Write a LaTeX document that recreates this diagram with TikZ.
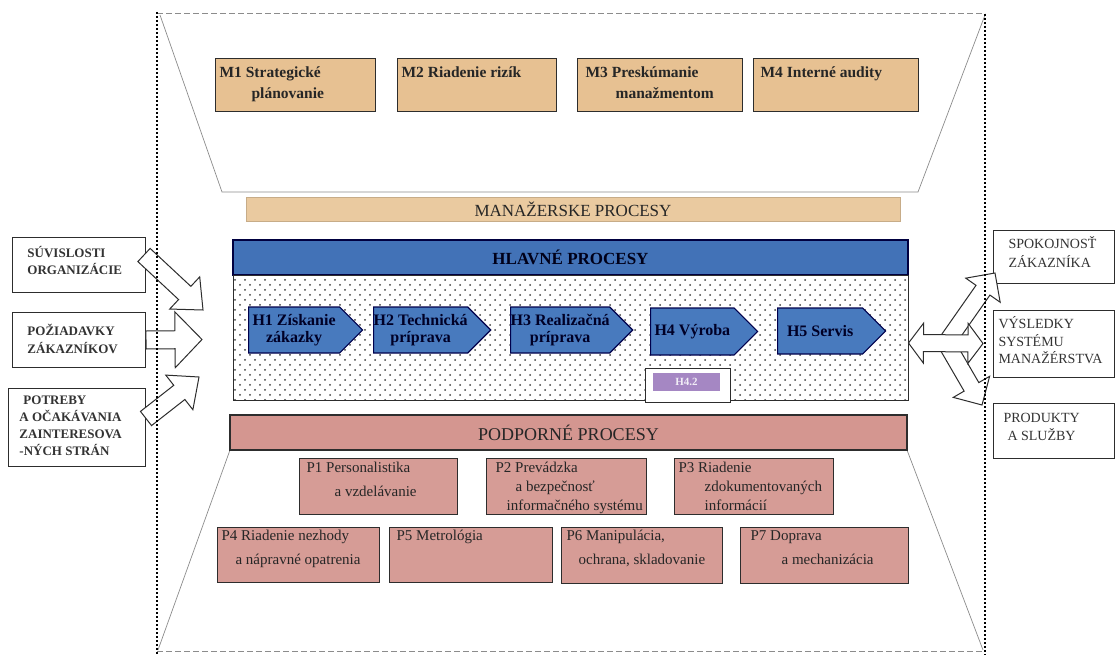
\documentclass[tikz,border=0pt]{standalone}
\usepackage{fontspec}
\setmainfont{Liberation Serif}
\usetikzlibrary{calc,shapes.symbols,patterns.meta}
\definecolor{tanc}{RGB}{231,193,146}
\definecolor{tanbar}{RGB}{234,202,160}
\definecolor{blueb}{RGB}{66,114,183}
\definecolor{blueh}{RGB}{72,122,190}
\definecolor{pinkc}{RGB}{214,156,150}
\definecolor{pinkbar}{RGB}{212,150,144}
\definecolor{purp}{RGB}{165,135,195}
\definecolor{edge}{RGB}{45,45,45}
\tikzdeclarepattern{
  name=mydots,
  type=uncolored,
  bottom left={(-1.5pt,-1.5pt)},
  top right={(8.5pt,8.5pt)},
  tile size={(10pt,10pt)},
  code={
    \pgfpathcircle{\pgfpoint{0pt}{0pt}}{1pt}
    \pgfpathcircle{\pgfpoint{5pt}{5pt}}{1pt}
    \pgfusepath{fill}
  }
}
% width, height, left pad, first baseline, line skip, content
\newcommand{\tb}[6]{\parbox[c][#2][t]{#1}{\raggedright\leftskip=#3\relax\baselineskip=#5\relax\rule{0pt}{#4}#6}}
\newcommand{\blockarrow}[5]{%
  \coordinate (tmpH) at ($(#2)!#5!(#1)$);
  \draw[barrow] ($(#1)!#3!90:(#2)$)
    -- ($(tmpH)!#3!90:(#2)$)
    -- ($(tmpH)!#4!90:(#2)$)
    -- (#2)
    -- ($(tmpH)!#4!-90:(#2)$)
    -- ($(tmpH)!#3!-90:(#2)$)
    -- ($(#1)!#3!-90:(#2)$) -- cycle;}
\newcommand{\dblarrow}[5]{%
  \coordinate (tmpA) at ($(#1)!#5!(#2)$);
  \coordinate (tmpB) at ($(#2)!#5!(#1)$);
  \draw[barrow] (#1) -- ($(tmpA)!#4!90:(#2)$) -- ($(tmpA)!#3!90:(#2)$)
    -- ($(tmpB)!#3!-90:(#1)$) -- ($(tmpB)!#4!-90:(#1)$) -- (#2)
    -- ($(tmpB)!#4!90:(#1)$) -- ($(tmpB)!#3!90:(#1)$)
    -- ($(tmpA)!#3!-90:(#2)$) -- ($(tmpA)!#4!-90:(#2)$) -- cycle;}
\begin{document}
\begin{tikzpicture}[x=1pt,y=-1pt,
  box/.style={anchor=north west, inner sep=0pt, line width=1.2pt, draw=edge},
  mbox/.style={box, fill=tanc, font=\bfseries\fontsize{15.5}{20}\selectfont, text=black!85},
  pbox/.style={box, fill=pinkc, font=\fontsize{15}{19}\selectfont, text=black!85},
  lbox/.style={box, fill=white, line width=1pt, font=\bfseries\fontsize{13}{17}\selectfont, text=black!80},
  rbox/.style={box, fill=white, line width=1pt, font=\fontsize{14}{18}\selectfont, text=black!80},
  bar/.style={inner sep=0pt, line width=1.2pt},
  hsig/.style={signal, signal to=east, anchor=west, draw=blue!30!black, line width=1.2pt, fill=blueh,
    inner sep=0pt, minimum height=46pt, font=\bfseries\fontsize{16}{17}\selectfont,
    text=blue!15!black, align=center},
  barrow/.style={draw=edge, line width=1pt, fill=white, line join=miter},
  trapline/.style={draw=black!45, line width=0.7pt},
  vdot/.style={draw=black, line width=1.3pt, dash pattern=on 1.6pt off 2.4pt},
  hdash/.style={draw=black!45, line width=0.8pt, dash pattern=on 6pt off 3pt},
]
\useasboundingbox (0,0) rectangle (1118,655);
\fill[white] (0,0) rectangle (1118,655);

% frame
\draw[trapline] (160,15) -- (222,192) -- (918,192) -- (985,15);
\draw[trapline] (230,450) -- (158,650);
\draw[trapline] (907,450) -- (983,650);
\draw[hdash] (157,13) -- (985,13);
\draw[hdash] (157,651) -- (985,651);

% management boxes
\node[mbox] (m1) at (215,58) {\tb{160pt}{53pt}{4pt}{19pt}{21pt}{M1 Strategické\\\hspace*{32pt}plánovanie}};
\node[mbox] (m2) at (397,58) {\tb{159pt}{53pt}{4pt}{19pt}{21pt}{M2 Riadenie rizík}};
\node[mbox] (m3) at (577,58) {\tb{165pt}{53pt}{8pt}{19pt}{21pt}{M3 Preskúmanie\\\hspace*{30pt}manažmentom}};
\node[mbox] (m4) at (753,58) {\tb{165pt}{53pt}{7pt}{19pt}{21pt}{M4 Interné audity}};

\node[bar, fill=tanbar, draw=tanbar!85!black, line width=0.5pt, minimum width=654pt,
  minimum height=24pt, font=\fontsize{17}{20}\selectfont, text=black!85] (mbar) at (573,209) {MANAŽERSKE PROCESY};

% main processes
\node[bar, fill=blueb, draw=blue!25!black, minimum width=675pt, minimum height=35pt,
  font=\bfseries\fontsize{17}{20}\selectfont, text=blue!10!black] (hbar) at (570.5,257.5) {HLAVNÉ PROCESY};
\node[inner sep=0pt, minimum width=675pt, minimum height=125pt, draw=edge, line width=1pt,
  pattern=mydots, pattern color=black!75] (harea) at (570.5,337.5) {};

\node[hsig, minimum width=114pt] (h1) at (248,330) {H1 Získanie\\zákazky};
\node[hsig, minimum width=117pt] (h2) at (373,330) {H2 Technická\\príprava};
\node[hsig, minimum width=117pt] (h3) at (510,330) {H3 Realizačná\\príprava};
\node[hsig, minimum width=107pt, minimum height=47pt] (h4) at (650,331.5) {H4 Výroba};
\node[hsig, minimum width=108pt] (h5) at (777,331) {H5 Servis};

\node[inner sep=0pt, fill=white, draw=edge, line width=1pt, minimum width=85pt, minimum height=34pt] (pw) at (687.5,385) {};
\node[inner sep=0pt, fill=purp, minimum width=67pt, minimum height=18pt,
  font=\bfseries\fontsize{11}{12}\selectfont, text=white!85!purp] (pp) at (686.5,382) {H4.2};

% support processes
\node[bar, fill=pinkbar, draw=edge, minimum width=677pt, minimum height=35pt,
  font=\fontsize{18}{20}\selectfont, text=black!85] (pbar) at (568.5,432.5) {PODPORNÉ PROCESY};

\node[pbox] (p1) at (299,458) {\tb{158pt}{56pt}{7pt}{14pt}{24pt}{P1 Personalistika\\\hspace*{28pt}a vzdelávanie}};
\node[pbox] (p2) at (486,458) {\tb{160pt}{56pt}{9pt}{14pt}{19pt}{P2 Prevádzka\\\hspace*{20pt}a~bezpečnosť\\\hspace*{11pt}informačného~systému}};
\node[pbox] (p3) at (674,458) {\tb{159pt}{56pt}{4pt}{14pt}{19pt}{P3 Riadenie\\\hspace*{26pt}zdokumentovaných\\\hspace*{26pt}informácií}};
\node[pbox] (p4) at (217,527) {\tb{162pt}{55pt}{4pt}{13pt}{24pt}{P4 Riadenie~nezhody\\\hspace*{14pt}a~nápravné~opatrenia}};
\node[pbox] (p5) at (389,527) {\tb{163pt}{55pt}{7pt}{13pt}{24pt}{P5 Metrológia}};
\node[pbox] (p6) at (561,527) {\tb{161pt}{56pt}{5pt}{13pt}{24pt}{P6 Manipulácia,\\\hspace*{12pt}ochrana,~skladovanie}};
\node[pbox] (p7) at (740,527) {\tb{168pt}{56pt}{10pt}{13pt}{24pt}{P7 Doprava\\\hspace*{31pt}a~mechanizácia}};

% left boxes
\node[lbox] (l1) at (12,237) {\tb{133pt}{55pt}{15pt}{20pt}{17pt}{SÚVISLOSTI\\ORGANIZÁCIE}};
\node[lbox] (l2) at (12,312) {\tb{133pt}{55pt}{15pt}{23pt}{18pt}{POŽIADAVKY\\ZÁKAZNÍKOV}};
\node[lbox] (l3) at (8,388) {\tb{137pt}{78pt}{15pt}{16pt}{17pt}{POTREBY\\\hspace*{-4pt}A~OČAKÁVANIA\\\hspace*{-4pt}ZAINTERESOVA\\\hspace*{-4pt}-NÝCH~STRÁN}};

% right boxes
\node[rbox] (r1) at (993,230) {\tb{121pt}{53pt}{15pt}{18pt}{19pt}{SPOKOJNOSŤ\\ZÁKAZNÍKA}};
\node[rbox] (r2) at (993,310) {\tb{121pt}{67pt}{5pt}{18pt}{17.5pt}{VÝSLEDKY\\SYSTÉMU\\MANAŽÉRSTVA}};
\node[rbox] (r3) at (993,403) {\tb{121pt}{55pt}{10pt}{19pt}{18pt}{PRODUKTY\\\hspace*{4pt}A~SLUŽBY}};

% block arrows, left
\coordinate (a1s) at ($(l1.east)+(-2,-10)$);
\coordinate (a1e) at (203,310);
\coordinate (a2s) at (l2.east);
\coordinate (a2e) at (202,339.5);
\coordinate (a3s) at ($(l3.east)+(0,-9)$);
\coordinate (a3e) at (199,377);
\blockarrow{a1s}{a1e}{9pt}{22pt}{25pt}
\blockarrow{a2s}{a2e}{9pt}{28pt}{27pt}
\blockarrow{a3s}{a3e}{9pt}{22pt}{25pt}

% block arrows, right
\coordinate (dl) at ($(harea.east)+(0,5.5)$);
\coordinate (dr) at ($(r2.west)+(-10,-0.5)$);
\coordinate (dc) at (946,343);
\coordinate (ue) at ($(r1.south west)+(2,-11)$);
\coordinate (de) at ($(r3.north west)+(-11,2)$);
\blockarrow{dc}{ue}{8.5pt}{21pt}{21pt}
\blockarrow{dc}{de}{8.5pt}{21pt}{21pt}
\dblarrow{dl}{dr}{8.5pt}{20pt}{15pt}

% outer dotted verticals
\draw[vdot] (157,12) -- (157,655);
\draw[vdot] (985,14) -- (985,655);
\end{tikzpicture}
\end{document}
